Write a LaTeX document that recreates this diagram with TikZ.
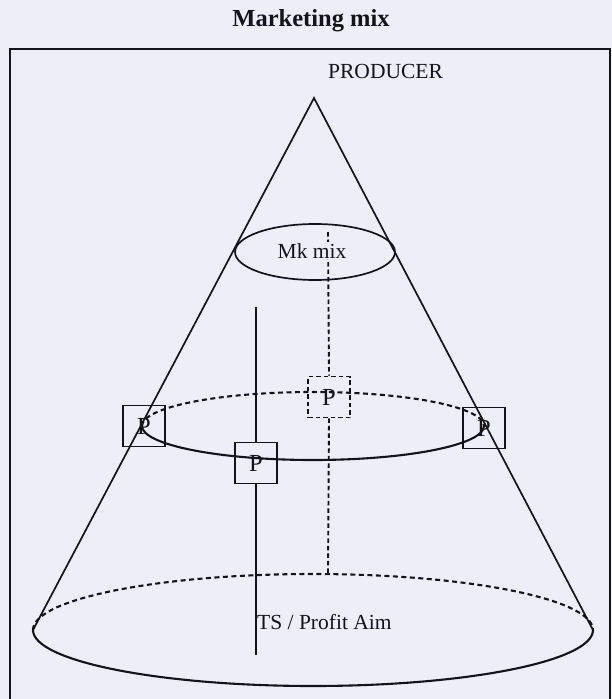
\documentclass[tikz,border=0pt]{standalone}
\usepackage{fontspec}
\setmainfont{Liberation Serif}
\usetikzlibrary{shapes.geometric}
\pgfdeclarelayer{back}
\pgfdeclarelayer{lines}
\pgfsetlayers{back,lines,main}
\definecolor{paper}{RGB}{237,239,246}
\definecolor{ink}{RGB}{20,20,24}
\tikzset{
  frame/.style={draw=ink, line width=1.9pt},
  coneline/.style={draw=ink, line width=1.7pt, line join=miter},
  solidarc/.style={draw=ink, line width=2.1pt},
  dasharc/.style={draw=ink, line width=2.1pt, dash pattern=on 5pt off 3.5pt},
  vsolid/.style={draw=ink, line width=1.6pt},
  vdash/.style={draw=ink, line width=1.9pt, dash pattern=on 4.5pt off 3pt},
  pbox/.style={draw=ink, line width=1.4pt, minimum width=42pt, minimum height=41pt, inner sep=0pt, font=\fontsize{24.5}{26}\selectfont, text=ink},
  pboxdash/.style={pbox, dash pattern=on 4.5pt off 3pt, line width=1.7pt},
  lbl/.style={inner sep=0pt, font=\fontsize{21.5}{24}\selectfont, text=ink},
  titlestyle/.style={inner sep=0pt, font=\fontsize{24.5}{28}\selectfont\bfseries, text=ink},
  mkell/.style={ellipse, draw=ink, line width=1.7pt, minimum width=160pt, minimum height=56pt, inner sep=0pt}
}
\begin{document}
\begin{tikzpicture}[x=1pt,y=-1pt]
\useasboundingbox (0,0) rectangle (612,699);
\begin{pgfonlayer}{back}
\fill[paper] (0,0) rectangle (612,699);
\end{pgfonlayer}

% texts
\node[titlestyle, anchor=base] (title) at (311,26) {Marketing mix};
\node[lbl, anchor=base west] (producer) at (328,78) {PRODUCER};
\node[mkell] (mk) at (315,252) {};
\node[lbl, anchor=base, fill=paper, inner sep=1pt] (mktext) at (312,258) {Mk mix};
\node[lbl, anchor=base west] (ts) at (257,629) {TS / Profit Aim};

% P boxes
\node[pbox] (pl) at (144,426) {P};
\node[pbox] (pr) at (484,428) {P};
\node[pbox] (pf) at (256,463) {P};
\node[pboxdash] (pd) at (329,397) {P};

% key points
\coordinate (apex) at (314,98);
\coordinate (bl) at (33,630);
\coordinate (br) at (593,630);
\coordinate (ml) at (142,426);
\coordinate (st) at (256,307);
\coordinate (sb) at (256,655);
\coordinate (dt) at (328,232);
\coordinate (db) at (328,574);

\begin{pgfonlayer}{lines}
% frame
\draw[frame] (10,699) -- (10,49) -- (610,49) -- (610,699);
% cone
\draw[coneline] (bl) -- (apex) -- (br);
% middle ellipse
\draw[dasharc] (ml) arc[start angle=180, end angle=0, x radius=171pt, y radius=34pt];
\draw[solidarc] (ml) arc[start angle=180, end angle=360, x radius=171pt, y radius=34pt];
% bottom ellipse
\draw[dasharc] (bl) arc[start angle=180, end angle=0, x radius=280pt, y radius=56pt];
\draw[solidarc] (bl) arc[start angle=180, end angle=360, x radius=280pt, y radius=56pt];
% vertical lines
\draw[vsolid] (st) -- (pf.north);
\draw[vsolid] (pf.south) -- (sb);
\draw[vdash] (dt) -- (pd.north);
\draw[vdash] (pd.south) -- (db);
\end{pgfonlayer}
\end{tikzpicture}
\end{document}
